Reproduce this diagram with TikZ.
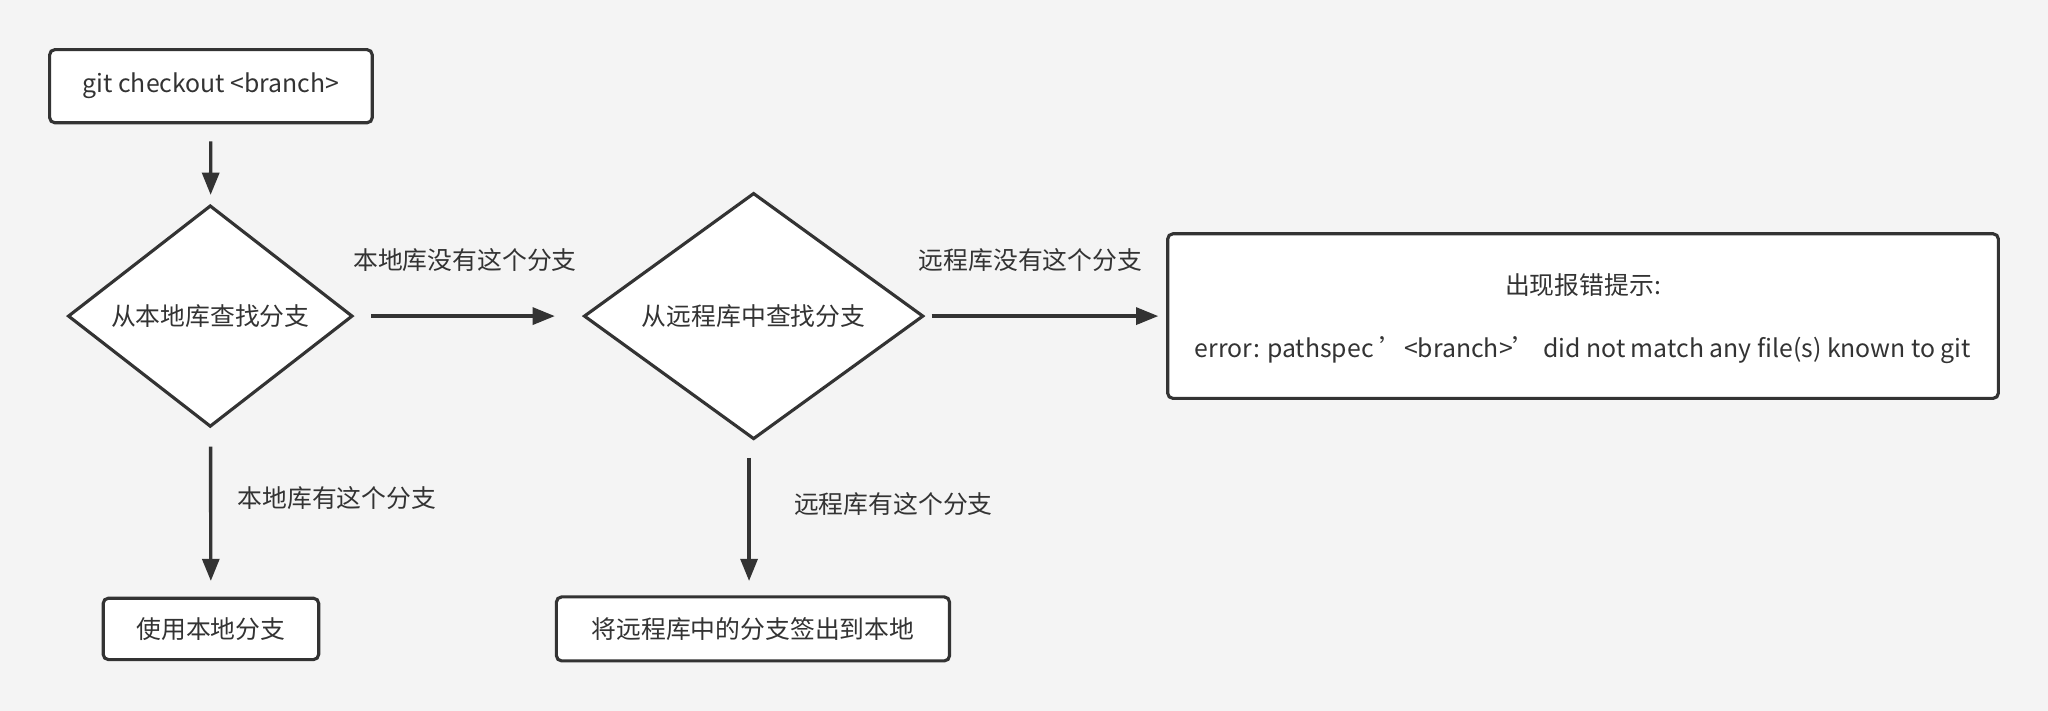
\documentclass[tikz,border=0pt]{standalone}
\usepackage{fontspec}
\setmainfont{Noto Sans CJK SC}
\usetikzlibrary{shapes.geometric}
\usetikzlibrary{arrows.meta}
\usetikzlibrary{positioning}
\definecolor{ink}{HTML}{333333}
\definecolor{bg}{HTML}{F4F4F4}
\tikzset{
  box/.style={draw=ink, line width=2.4pt, rounded corners=4pt, fill=white, inner sep=0pt, text=ink},
  choice/.style={draw=ink, line width=2.4pt, diamond, fill=white, inner sep=0pt, text=ink},
  flow/.style={draw=ink, line width=2.6pt, -{Triangle[length=17pt,width=13pt]}},
  note/.style={text=ink}
}
\begin{document}
\begin{tikzpicture}[x=1pt,y=-1pt,font=\fontsize{19}{24}\selectfont]
        % canvas
        \fill[bg] (0,0) rectangle (1568,544);
        \useasboundingbox (0,0) rectangle (1568,544);

        % start
        \node[box, minimum width=247pt, minimum height=56pt] (start) at (161.5,66) {git checkout <branch>};

        % local search
        \node[choice, minimum width=218pt, minimum height=122pt] (local) at (161,242) {从本地库查找分支};
        \node[box, minimum width=165pt, minimum height=47pt] (uselocal) at (161.5,481.5) {使用本地分支};

        % remote search
        \node[choice, minimum width=260pt, minimum height=122pt] (remote) at (577,242) {从远程库中查找分支};
        \node[box, minimum width=301pt, minimum height=49pt] (checkout) at (576.5,481.5) {将远程库中的分支签出到本地};

        % error
        \node[box, minimum width=636pt, minimum height=126pt] (error) at (1212,242) {};
        \node[note] (errtitle) at (1212,218) {出现报错提示:};
        \node[note] (errtext) at (1212,268) {error: pathspec '<branch>' did not match any file(s) known to git};

        % connectors
        \draw[flow, shorten <=13pt, shorten >=7pt] (start) -- (local);
        \draw[flow, shorten <=13pt, shorten >=21pt] (local) -- (remote);
        \draw[flow, shorten <=5pt, shorten >=6pt] (remote) -- (error);
        \draw[flow, shorten <=14pt, shorten >=12pt] (local) -- (uselocal);
        \draw[flow, shorten <=13pt, shorten >=11pt] (remote.south -| checkout.north) ++(-3,0) coordinate (rs) -- (rs |- checkout.north);

        % labels
        \node[note] at (356,199) {本地库没有这个分支};
        \node[note] at (789,199) {远程库没有这个分支};
        \node[note] at (258,381) {本地库有这个分支};
        \node[note] at (684,386) {远程库有这个分支};
\end{tikzpicture}
\end{document}
